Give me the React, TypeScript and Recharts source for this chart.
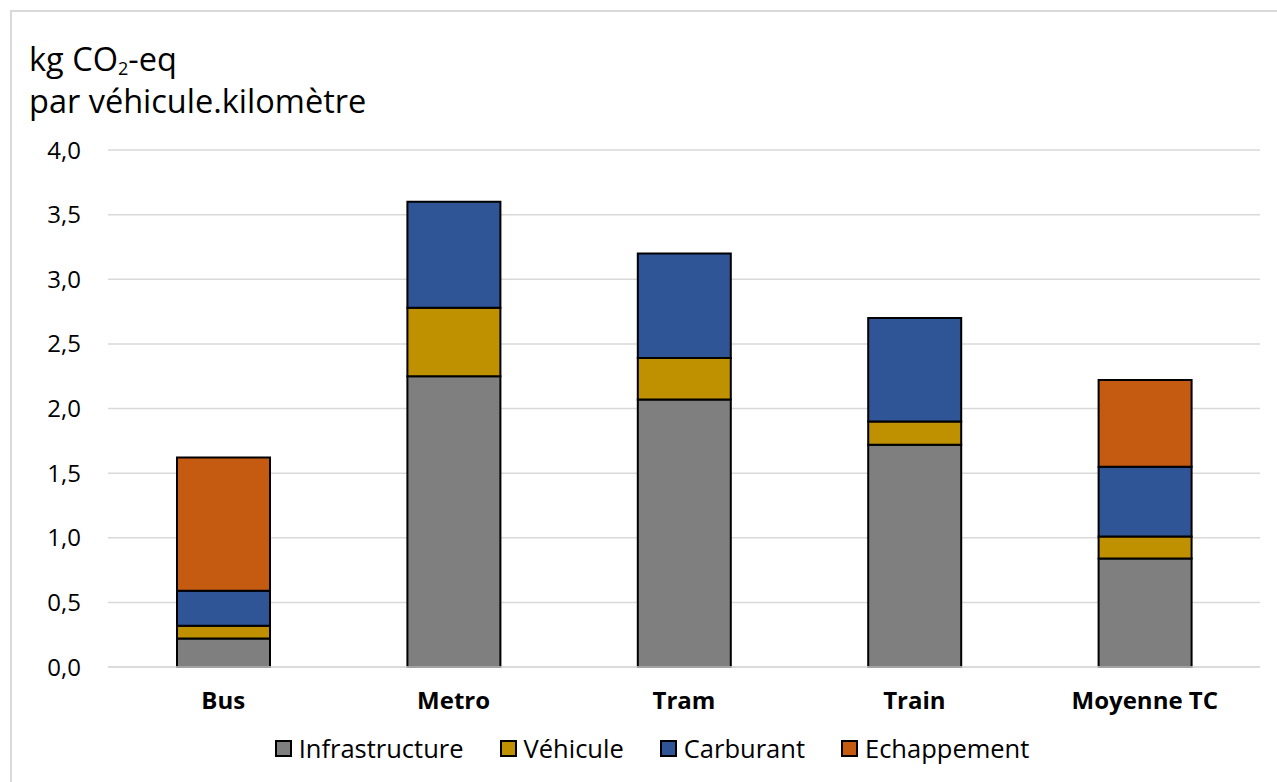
import React from 'react'
import { BarChart, Bar, XAxis, YAxis, CartesianGrid, Legend } from 'recharts'

const FONT = "'Open Sans', Lato, sans-serif"

const categories = ['Bus', 'Metro', 'Tram', 'Train', 'Moyenne TC']
const infrastructure = [0.22, 2.25, 2.07, 1.72, 0.84]
const vehicule = [0.10, 0.53, 0.32, 0.18, 0.17]
const carburant = [0.27, 0.82, 0.81, 0.80, 0.54]
const echappement = [1.03, null, null, null, 0.67]
const yTicks = [0, 0.5, 1, 1.5, 2, 2.5, 3, 3.5, 4]

const series = [
  { key: 'infra', name: 'Infrastructure', color: '#7f7f7f' },
  { key: 'veh', name: 'Véhicule', color: '#bf9000' },
  { key: 'carb', name: 'Carburant', color: '#2f5597' },
  { key: 'ech', name: 'Echappement', color: '#c55a11' },
]

const data = categories.map((c, i) => ({
  name: c,
  infra: infrastructure[i],
  veh: vehicule[i],
  carb: carburant[i],
  ech: echappement[i],
}))

function LegendBox() {
  return (
    <div style={{display:'flex',justifyContent:'center',alignItems:'center',gap:36,marginLeft:44,fontFamily:FONT,fontSize:25.5,lineHeight:'28px',color:'#000'}}>
      {series.map(s=>(
        <div key={s.key} style={{display:'flex',alignItems:'center',gap:7}}>
          <span style={{display:'inline-block',width:13,height:13,background:s.color,border:'2px solid #000'}}/>
          <span>{s.name}</span>
        </div>
      ))}
    </div>
  )
}

export default function App() {
  return (
    <div style={{position:'absolute',left:0,top:0,width:1277,height:782,background:'#fff',overflow:'hidden'}}>
      <div style={{position:'absolute',left:10,top:10,width:1300,height:800,borderLeft:'2px solid #d9d9d9',borderTop:'2px solid #d9d9d9'}}/>
      <div style={{position:'absolute',left:29,top:43,fontFamily:FONT,fontSize:32.5,lineHeight:'32px',color:'#000',whiteSpace:'nowrap'}}>
        kg CO<sub style={{fontSize:18,lineHeight:0,verticalAlign:'-4px'}}>2</sub>-eq
      </div>
      <div style={{position:'absolute',left:29,top:85,fontFamily:FONT,fontSize:32.5,lineHeight:'32px',color:'#000',whiteSpace:'nowrap'}}>
        par véhicule.kilomètre
      </div>
      <div style={{position:'absolute',left:0,top:0}}>
        <BarChart width={1277} height={782} data={data} margin={{top:150,right:17,bottom:20,left:0}} barSize={93}>
          <CartesianGrid vertical={false} stroke="#d9d9d9" strokeWidth={1.5}/>
          <XAxis dataKey="name" height={67} axisLine={{stroke:'#d9d9d9',strokeWidth:1.5}} tickLine={false} tickMargin={19}
            tick={{fill:'#000',fontSize:24,fontWeight:700,fontFamily:FONT}} interval={0}/>
          <YAxis width={108} domain={[0,4]} ticks={yTicks} axisLine={false} tickLine={false} tickMargin={21}
            tick={{fill:'#000',fontSize:24,fontFamily:FONT}} tickFormatter={v=>v.toFixed(1).replace('.',',')}/>
          <Legend verticalAlign="bottom" content={<LegendBox/>}/>
          {series.map(s=>(
            <Bar key={s.key} dataKey={s.key} name={s.name} stackId="a" fill={s.color} stroke="#000" strokeWidth={2} isAnimationActive={false}/>
          ))}
        </BarChart>
      </div>
    </div>
  )
}
